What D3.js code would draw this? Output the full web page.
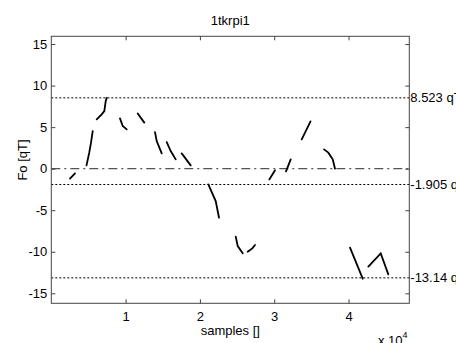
<!DOCTYPE html>
<html><head><meta charset="utf-8">
<script src="https://cdn.jsdelivr.net/npm/d3@7"></script>
<style>
body{margin:0;background:#fff;overflow:hidden}
svg{display:block}
text{font-family:"Liberation Sans",Arial,Helvetica,sans-serif;font-size:13px;fill:#000}
</style></head><body>
<script>
// ---- data ----
const title = "1tkrpi1";
const xLabel = "samples []";
const yLabel = "Fo [qT]";
const xTicks = [10000, 20000, 30000, 40000];
const yTicks = [-15, -10, -5, 0, 5, 10, 15];
const xDomain = [0, 48180];
const yDomain = [-16.2, 15.93];
const levels = [8.523, -1.905, -13.14];
const levelLabels = ["8.523 qT", "-1.905 qT", "-13.14 qT"];
const zeroLevel = 0;
// segments: [sample, value] pairs
const segments = [
  [[2517,-1.20],[3190,-0.57]],
  [[4738,0.40],[5114,1.96],[5343,3.13],[5572,4.52]],
  [[6110,5.93],[6783,6.53],[7133,6.93],[7322,8.13],[7456,8.52]],
  [[9246,6.05],[9610,5.13],[10148,4.73]],
  [[11629,6.65],[12517,5.54]],
  [[13957,4.40],[14186,3.32],[14859,1.84]],
  [[15532,3.20],[16070,2.12],[16743,1.12]],
  [[17550,1.84],[18762,0.40]],
  [[21131,-1.89],[22127,-3.90],[22571,-5.90]],
  [[24818,-8.18],[25087,-9.31],[25760,-10.19]],
  [[26433,-9.99],[27052,-9.59],[27416,-9.19]],
  [[29341,-1.29],[30108,-0.20]],
  [[31588,-0.32],[32221,1.12]],
  [[33701,3.53],[34886,5.69]],
  [[36703,2.32],[37282,1.93],[37874,1.12],[38184,0.0]],
  [[40202,-9.51],[41911,-13.24]],
  [[42665,-11.79],[44334,-10.19],[45357,-12.72]]
];

const W = 456, H = 343;
const L = 51.3, R = 409.3, T = 36.3, B = 303.3;
const svg = d3.select("body").append("svg").attr("width", W).attr("height", H);
const x = d3.scaleLinear().domain(xDomain).range([L, R]);
const y = d3.scaleLinear().domain(yDomain).range([B, T]);

// level lines (dotted)
svg.selectAll("line.lvl").data(levels).enter().append("line")
  .attr("x1", L).attr("x2", R).attr("y1", d => y(d)).attr("y2", d => y(d))
  .attr("stroke", "#000").attr("stroke-width", 1).attr("stroke-dasharray", "2,2");
// zero dash-dot
svg.append("line").attr("x1", L).attr("x2", R).attr("y1", y(zeroLevel)).attr("y2", y(zeroLevel))
  .attr("stroke", "#555").attr("stroke-width", 1.3).attr("stroke-dasharray", "9,4,2,4");

// segments
const line = d3.line().x(d => x(d[0])).y(d => y(d[1]));
svg.selectAll("path.seg").data(segments).enter().append("path")
  .attr("d", line).attr("fill", "none").attr("stroke", "#000").attr("stroke-width", 1.8)
  .attr("stroke-linecap", "round");

// axes
const axCol = "#444";
function style(g){
  g.select(".domain").remove();
  g.selectAll(".tick line").attr("stroke", axCol);
  g.selectAll(".tick text").style("font-family", '"Liberation Sans",Arial,sans-serif').style("font-size", "13px").attr("fill", "#000");
}
svg.append("g").attr("transform", `translate(0,${B})`)
  .call(d3.axisBottom(x).tickValues(xTicks).tickFormat(d => d / 10000).tickSize(-4).tickPadding(8))
  .call(style);
svg.append("g").attr("transform", `translate(0,${T})`)
  .call(d3.axisTop(x).tickValues(xTicks).tickFormat("").tickSize(-4))
  .call(style);
svg.append("g").attr("transform", `translate(${L},0)`)
  .call(d3.axisLeft(y).tickValues(yTicks).tickFormat(d => d).tickSize(-4).tickPadding(4))
  .call(style);
svg.append("g").attr("transform", `translate(${R},0)`)
  .call(d3.axisRight(y).tickValues(yTicks).tickFormat("").tickSize(-4))
  .call(style);
svg.append("rect").attr("x", L).attr("y", T).attr("width", R - L).attr("height", B - T)
  .attr("fill", "none").attr("stroke", axCol).attr("stroke-width", 1);

// level labels
svg.selectAll("text.lvl").data(levels).enter().append("text")
  .attr("x", R + 1).attr("y", d => y(d)).attr("dy", "0.35em")
  .text((d, i) => levelLabels[i]);

// title and labels
svg.append("text").attr("x", (L + R) / 2).attr("y", 25).attr("text-anchor", "middle").text(title);
svg.append("text").attr("x", (L + R) / 2).attr("y", 335).attr("text-anchor", "middle").text(xLabel);
svg.append("text").attr("transform", `translate(27,160) rotate(-90)`).attr("text-anchor", "middle").text(yLabel);
const ex = svg.append("text").attr("x", 378).attr("y", 345);
ex.append("tspan").text("x 10");
ex.append("tspan").attr("dy", -7).style("font-size", "9px").text("4");
</script>
</body></html>
